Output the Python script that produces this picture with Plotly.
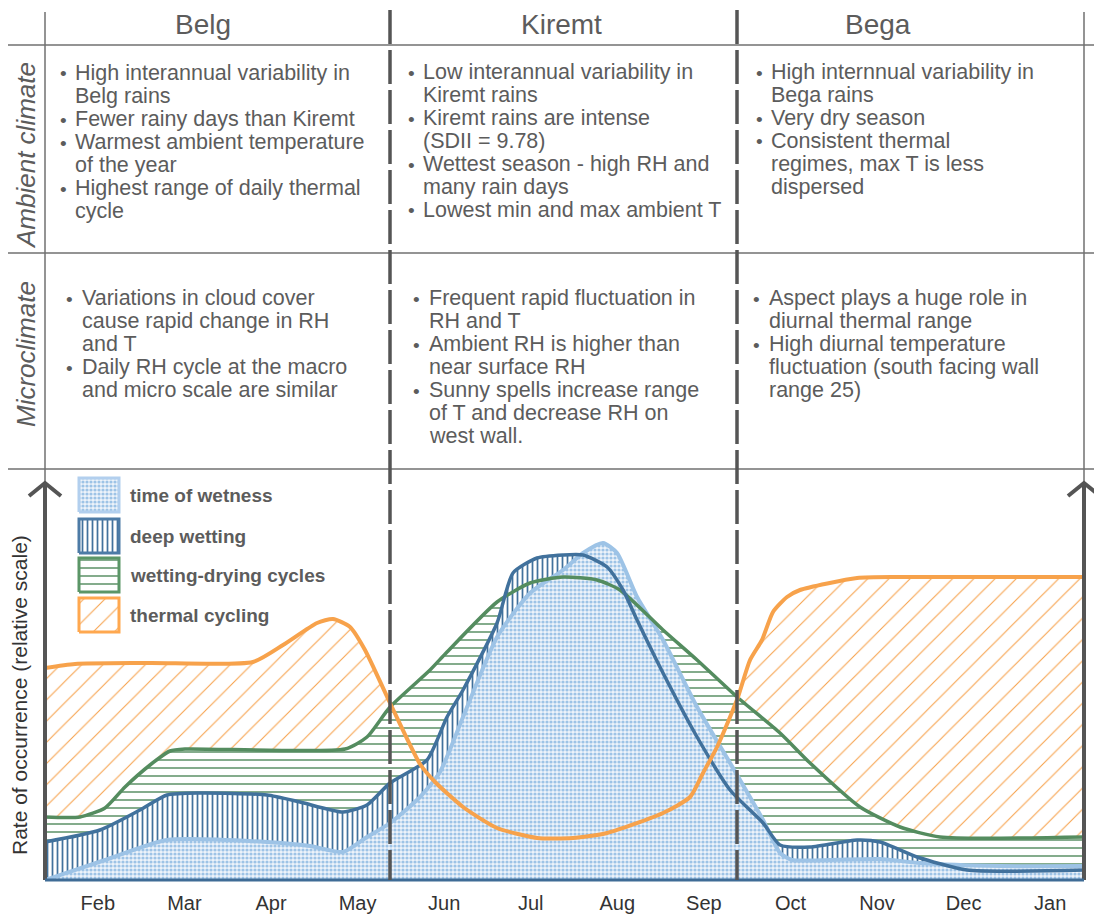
import plotly.graph_objects as go

# ---------------- data (x in month units: Feb=1 ... Jan=12; y relative scale) ----------------
months = ["Feb", "Mar", "Apr", "May", "Jun", "Jul", "Aug", "Sep", "Oct", "Nov", "Dec", "Jan"]
month_pos = [1, 2, 3, 4, 5, 6, 7, 8, 9, 10, 11, 12]

thermal_x = [0.39, 0.737, 1.603, 2.792, 3.139, 3.532, 3.716, 3.913, 4.086, 4.375, 4.721, 4.895,
             5.218, 5.611, 6.073, 6.488, 6.881, 7.528, 7.840, 7.990, 8.152, 8.302, 8.394, 8.533,
             8.671, 8.798, 8.960, 9.110, 9.769, 10.265, 12.39]
thermal_y = [53, 54, 54.25, 54.5, 58.75, 64.25, 65.25, 63.25, 57.5, 44.25, 29, 24.5,
             18.25, 13, 10.5, 10.5, 11.75, 16.75, 20.75, 26.75, 33.25, 40.75, 45.75, 55,
             60, 67, 70.75, 72.5, 75.5, 75.75, 75.75]

wetdry_x = [0.39, 0.794, 1.083, 1.314, 1.603, 1.834, 2.007, 3.855, 4.109, 4.375, 4.837, 5.033,
            5.611, 5.992, 6.373, 6.766, 7.031, 7.528, 7.921, 8.383, 8.879, 9.226, 9.803, 10.265,
            10.727, 12.39]
wetdry_y = [15.75, 15.75, 18, 23.25, 28.75, 32.25, 32.75, 32.75, 35.75, 43.25, 52.5, 57,
            69.5, 74.25, 75.75, 75, 72.5, 62.5, 55, 45.75, 36.75, 29.25, 18.25, 13.25,
            10.75, 10.75]

tow_x = [0.39, 1.083, 1.799, 2.954, 3.451, 3.832, 4.109, 4.375, 4.721, 4.952, 5.218, 5.611,
         5.992, 6.373, 6.604, 6.835, 6.997, 7.228, 7.528, 7.921, 8.302, 8.683, 8.879, 9.018,
         9.457, 10.034, 10.496, 11.420, 12.39]
tow_y = [0, 5, 10, 9.5, 8.5, 7, 10.75, 14.25, 20.75, 27, 40.75, 60.75,
         71.75, 77.5, 81.75, 84.25, 81.75, 70.75, 60, 43.25, 29.25, 15, 6.75, 5,
         5, 5.25, 4.25, 3.5, 3.5]

deep_x = [0.39, 1.025, 1.487, 1.799, 2.180, 2.954, 3.335, 3.832, 4.109, 4.375, 4.802, 5.033,
          5.218, 5.611, 5.795, 6.073, 6.373, 6.604, 6.881, 7.066, 7.228, 7.528, 7.921, 8.302,
          8.683, 8.879, 9.226, 9.769, 10.034, 10.462, 11.039, 12.39]
deep_y = [9.5, 12.5, 17.5, 21.25, 21.75, 21.25, 19.5, 17, 18.75, 24.25, 30, 40.75,
          47.5, 64.25, 76.75, 80.5, 81.25, 81.25, 78.25, 72.5, 65, 51.75, 35.75, 22.5,
          14.25, 8.75, 8.25, 10, 9.5, 5.75, 2.5, 2.5]

seasons = ["Belg", "Kiremt", "Bega"]
row_labels = ["Ambient climate", "Microclimate"]
y_title = "Rate of occurrence (relative scale)"
legend_labels = ["time of wetness", "deep wetting", "wetting-drying cycles", "thermal cycling"]

ambient_text = [
    [("High interannual variability in", True), ("Belg rains", False),
     ("Fewer rainy days than Kiremt", True), ("Warmest ambient temperature", True),
     ("of the year", False), ("Highest range of daily thermal", True), ("cycle", False)],
    [("Low interannual variability in", True), ("Kiremt rains", False),
     ("Kiremt rains are intense", True), ("(SDII = 9.78)", False),
     ("Wettest season - high RH and", True), ("many rain days", False),
     ("Lowest min and max ambient T", True)],
    [("High internnual variability in", True), ("Bega rains", False),
     ("Very dry season", True), ("Consistent thermal", True),
     ("regimes, max T is less", False), ("dispersed", False)],
]
micro_text = [
    [("Variations in cloud cover", True), ("cause rapid change in RH", False), ("and T", False),
     ("Daily RH cycle at the macro", True), ("and micro scale are similar", False)],
    [("Frequent rapid fluctuation in", True), ("RH and T", False),
     ("Ambient RH is higher than", True), ("near surface RH", False),
     ("Sunny spells increase range", True), ("of T and decrease RH on", False), ("west wall.", False)],
    [("Aspect plays a huge role in", True), ("diurnal thermal range", False),
     ("High diurnal temperature", True), ("fluctuation (south facing wall", False), ("range 25)", False)],
]

# ---------------- layout constants (page pixels) ----------------
OFF = 8                      # default body margin of the html page
W, H = 1094, 909             # figure size
X0_PX, X1_PX = 45, 1084
Y0_PX, Y1_PX = 880, 468
X_RANGE = [0.39, 12.39]
Y_RANGE = [0, 103]
GRAY = "#5c5c5c"
LINEGRAY = "#707070"
FONT = "Liberation Sans, Arial, sans-serif"

C_TOW = "#9dc3e6"
C_DEEP = "#41719c"
C_GREEN = "#548c5f"
C_ORANGE = "#f7a24b"


def px2x(px):
    return X_RANGE[0] + (px - X0_PX) / (X1_PX - X0_PX) * (X_RANGE[1] - X_RANGE[0])


def py2y(py):
    return Y_RANGE[0] + (Y0_PX - py) / (Y0_PX - Y1_PX) * (Y_RANGE[1] - Y_RANGE[0])


def xp(px):
    return (px - OFF) / W


def yp(py):
    return 1 - (py - OFF) / H


patterns = {
    "tow": dict(shape=".", fgcolor=C_TOW, bgcolor="#eef4fb", size=4, solidity=0.5),
    "deep": dict(shape="|", fgcolor=C_DEEP, bgcolor="white", size=5, solidity=0.35),
    "green": dict(shape="-", fgcolor=C_GREEN, bgcolor="white", size=8, solidity=0.18),
    "orange": dict(shape="/", fgcolor=C_ORANGE, bgcolor="white", size=15, solidity=0.07),
}

fig = go.Figure()

series = [
    (thermal_x, thermal_y, "orange", C_ORANGE, 4),
    (wetdry_x, wetdry_y, "green", C_GREEN, 3.5),
    (deep_x, deep_y, "deep", C_DEEP, 3.5),
    (tow_x, tow_y, "tow", C_TOW, 4),
]

# fills
for sx, sy, key, col, lw in series:
    fig.add_trace(go.Scatter(
        x=sx, y=sy, mode="lines", fill="tozeroy", fillcolor="rgba(255,255,255,1)",
        fillpattern=patterns[key], line=dict(width=0, shape="spline", smoothing=0.6),
        hoverinfo="skip", showlegend=False))

# outlines
for idx in [3, 1, 2, 0]:
    sx, sy, key, col, lw = series[idx]
    fig.add_trace(go.Scatter(
        x=sx, y=sy, mode="lines", line=dict(color=col, width=lw, shape="spline", smoothing=0.6),
        hoverinfo="skip", showlegend=False))

# legend swatches
sw_rows = [(478, 512), (519, 553), (558, 592), (598, 632)]
sw_keys = [("tow", "#b2cfee"), ("deep", "#4d7ba6"), ("green", "#5b9667"), ("orange", "#ffa84f")]
for (t, b), (key, bcol), lab in zip(sw_rows, sw_keys, legend_labels):
    x_a, x_b = px2x(79), px2x(119)
    y_a, y_b = py2y(b), py2y(t)
    fig.add_trace(go.Scatter(
        x=[x_a, x_b, x_b, x_a, x_a], y=[y_a, y_a, y_b, y_b, y_a], mode="lines",
        fill="toself", fillcolor="white", fillpattern=patterns[key],
        line=dict(color=bcol, width=3), hoverinfo="skip", showlegend=False))
    fig.add_annotation(x=xp(128), y=yp((t + b) / 2), xref="paper", yref="paper",
                       text=lab, showarrow=False, xanchor="left", yanchor="middle",
                       font=dict(family=FONT, size=19, color=GRAY, weight="bold"))

shapes = []
# horizontal grid lines
for py in [45, 253, 469]:
    shapes.append(dict(type="line", xref="paper", yref="paper", x0=0, x1=1, y0=yp(py), y1=yp(py),
                       line=dict(color=LINEGRAY, width=1.5)))
# thin vertical frame lines
for px in [45, 1084]:
    shapes.append(dict(type="line", xref="paper", yref="paper", x0=xp(px), x1=xp(px),
                       y0=yp(12), y1=yp(483), line=dict(color=LINEGRAY, width=1.5)))
# thick axis lines with arrows
for px in [45, 1084]:
    shapes.append(dict(type="line", xref="paper", yref="paper", x0=xp(px), x1=xp(px),
                       y0=yp(483), y1=yp(880), line=dict(color="#555555", width=4)))
    shapes.append(dict(type="path", xref="paper", yref="paper",
                       path=f"M {xp(px-16)},{yp(496)} L {xp(px)},{yp(483)} L {xp(px+16)},{yp(496)}",
                       line=dict(color="#555555", width=4)))
# x baseline
shapes.append(dict(type="line", xref="paper", yref="paper", x0=xp(45), x1=xp(1084),
                   y0=yp(880), y1=yp(880), line=dict(color="#3f6c96", width=3)))
# season dividers (dashed)
for px in [390, 737]:
    shapes.append(dict(type="line", xref="paper", yref="paper", x0=xp(px), x1=xp(px),
                       y0=yp(10), y1=yp(880), line=dict(color="#555555", width=3.5, dash="34px,6px")))

# season headers
for name, cx in zip(seasons, [203, 562, 878]):
    fig.add_annotation(x=xp(cx), y=1.0, xref="paper", yref="paper", text=name, showarrow=False,
                       xanchor="center", yanchor="top", borderpad=0,
                       font=dict(family=FONT, size=28, color=GRAY))

# row labels
for lab, cy in zip(row_labels, [156, 354]):
    fig.add_annotation(x=xp(26), y=yp(cy), xref="paper", yref="paper", text=f"<i>{lab}</i>",
                       showarrow=False, textangle=-90, xanchor="center", yanchor="middle",
                       font=dict(family=FONT, size=26, color=GRAY))

fig.add_annotation(x=xp(19), y=yp(695), xref="paper", yref="paper", text=y_title,
                   showarrow=False, textangle=-90, xanchor="center", yanchor="middle",
                   font=dict(family=FONT, size=21, color="#333333"))


def add_block(lines, bullet_x, text_x, y_start, step=23):
    for i, (txt, bullet) in enumerate(lines):
        yy = y_start + i * step
        if bullet:
            fig.add_annotation(x=xp(bullet_x), y=yp(yy + 1), xref="paper", yref="paper", text="•",
                               showarrow=False, xanchor="center", yanchor="middle",
                               font=dict(family=FONT, size=19, color=GRAY))
        fig.add_annotation(x=xp(text_x), y=yp(yy), xref="paper", yref="paper", text=txt,
                           showarrow=False, xanchor="left", yanchor="middle",
                           font=dict(family=FONT, size=21.5, color=GRAY))


add_block(ambient_text[0], 63, 73, 73)
add_block(ambient_text[1], 411, 421, 72)
add_block(ambient_text[2], 759, 769, 72)
add_block(micro_text[0], 69, 80, 298)
add_block(micro_text[1], 416, 427, 298)
add_block(micro_text[2], 756, 767, 298)

fig.update_layout(
    width=W, height=H, margin=dict(l=0, r=0, t=0, b=0), template="none",
    paper_bgcolor="white", plot_bgcolor="rgba(0,0,0,0)", showlegend=False,
    shapes=shapes,
    xaxis=dict(domain=[xp(X0_PX), xp(X1_PX)], range=X_RANGE, showgrid=False, zeroline=False,
               showline=False, ticks="", tickvals=month_pos, ticktext=months, automargin=False,
               tickfont=dict(family=FONT, size=20, color="#333333"), ticklabelstandoff=9, fixedrange=True),
    yaxis=dict(domain=[yp(Y0_PX), yp(Y1_PX)], range=Y_RANGE, visible=False, automargin=False,
               fixedrange=True),
)

fig.write_html("out.html")
